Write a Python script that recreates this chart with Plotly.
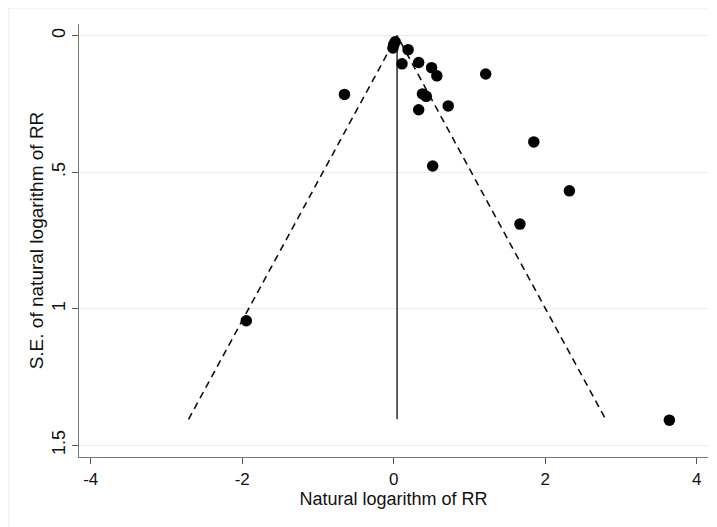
import plotly.graph_objects as go

# Study estimates (natural log of RR) and their standard errors
log_rr = [0.00, 0.02, -0.01, 0.19, 0.11, 0.33, 0.50, 0.57, 1.215, -0.65,
          0.38, 0.43, 0.72, 0.33, 1.85, 0.515, 2.32, 1.667, -1.946, 3.64]
se_log_rr = [0.033, 0.022, 0.045, 0.051, 0.103, 0.098, 0.117, 0.147, 0.140, 0.215,
             0.213, 0.222, 0.257, 0.271, 0.389, 0.477, 0.568, 0.690, 1.044, 1.408]

pooled = 0.045
se_max = 1.405
z = 1.96

x_ticks = [-4, -2, 0, 2, 4]
x_tick_text = ["-4", "-2", "0", "2", "4"]
y_ticks = [0, 0.5, 1, 1.5]
y_tick_text = ["0", ".5", "1", "1.5"]

x_title = "Natural logarithm of RR"
y_title = "S.E. of natural logarithm of RR"

FONT = "Liberation Sans, Arial, sans-serif"

fig = go.Figure()

# Pseudo 95% confidence limits (dashed funnel)
fig.add_trace(go.Scatter(
    x=[pooled - z * se_max, pooled, pooled + z * se_max],
    y=[se_max, 0, se_max],
    mode="lines",
    line=dict(color="#111111", width=1.6, dash="7px,5px"),
    hoverinfo="skip", showlegend=False,
))
# Pooled estimate vertical line
fig.add_trace(go.Scatter(
    x=[pooled, pooled], y=[0, se_max],
    mode="lines",
    line=dict(color="#3a3a3a", width=1.6),
    hoverinfo="skip", showlegend=False,
))
# Studies
fig.add_trace(go.Scatter(
    x=log_rr, y=se_log_rr,
    mode="markers",
    marker=dict(color="black", size=11.5, line=dict(width=0)),
    showlegend=False,
))

axis_common = dict(
    showline=True, linecolor="#777777", linewidth=1.3,
    ticks="outside", ticklen=6, tickcolor="#555555", tickwidth=1.2,
    zeroline=False, automargin=False,
)

fig.update_xaxes(
    range=[-4.155, 4.15],
    tickvals=x_ticks, ticktext=x_tick_text,
    tickfont=dict(family=FONT, size=17, color="#111111"),
    showgrid=False,
    title_text=x_title, title_standoff=0,
    title_font=dict(family=FONT, size=18, color="#111111"),
    **axis_common,
)
fig.update_yaxes(
    range=[1.543, -0.043],
    tickvals=y_ticks, ticktext=y_tick_text,
    tickfont=dict(family=FONT, size=18, color="#111111"),
    tickangle=-90,
    showgrid=True, gridcolor="#e6eef0", gridwidth=1.2,
    title_text=y_title, title_standoff=0,
    title_font=dict(family=FONT, size=19, color="#111111"),
    **axis_common,
)

# Faint outer graph-region border
fig.add_shape(type="rect", xref="paper", yref="paper",
              x0=(1 - 71) / 629, x1=(730 - 71) / 629,
              y0=(449 - 540) / 433, y1=(449 - 0) / 433,
              line=dict(color="#e3ebee", width=1), fillcolor="rgba(0,0,0,0)",
              layer="below")

fig.update_layout(
    width=709, height=519,
    margin=dict(l=71, r=9, t=16, b=70),
    paper_bgcolor="white", plot_bgcolor="white",
    font=dict(family=FONT, color="#111111"),
)

fig.write_html("out.html")
